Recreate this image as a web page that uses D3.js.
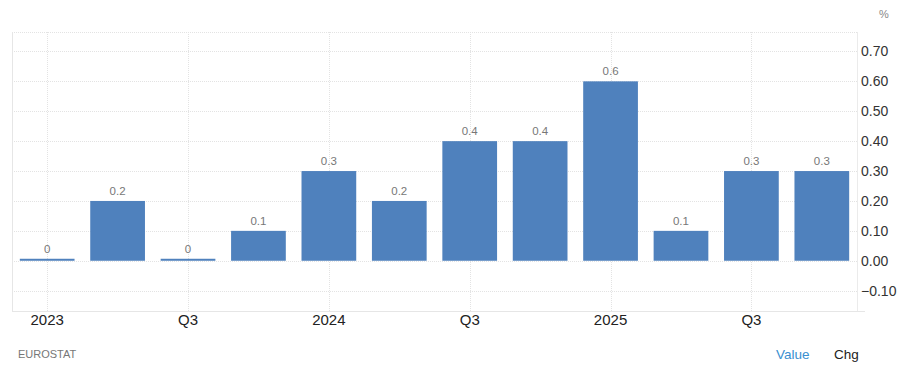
<!DOCTYPE html>
<html><head><meta charset="utf-8">
<script src="https://cdn.jsdelivr.net/npm/d3@7"></script>
<style>body{margin:0;background:#fff;}svg{display:block;font-family:Arial,"Liberation Sans",sans-serif;}</style>
</head><body>
<svg id="c" width="900" height="374"></svg>
<script>
const categories = ["2023 Q1","2023 Q2","2023 Q3","2023 Q4","2024 Q1","2024 Q2","2024 Q3","2024 Q4","2025 Q1","2025 Q2","2025 Q3","2025 Q4"];
const values = [0, 0.2, 0, 0.1, 0.3, 0.2, 0.4, 0.4, 0.6, 0.1, 0.3, 0.3];
const xTickLabels = {"2023 Q1":"2023","2023 Q3":"Q3","2024 Q1":"2024","2024 Q3":"Q3","2025 Q1":"2025","2025 Q3":"Q3"};
const yTicks = [-0.1, 0, 0.1, 0.2, 0.3, 0.4, 0.5, 0.6, 0.7];

const svg = d3.select("#c");
const L = 12, R = 857, T = 32, B = 311;
const x = d3.scaleBand().domain(categories).range([L, R]).paddingInner(0.223).paddingOuter(0.111);
const y = d3.scaleLinear().domain([-0.168, 0.765]).range([B, T]);

// grid
const g = svg.append("g");
g.selectAll("line.h").data(yTicks).join("line")
  .attr("x1", L).attr("x2", R).attr("y1", d => Math.round(y(d)) + 0.5).attr("y2", d => Math.round(y(d)) + 0.5)
  .attr("stroke", "#e3e3e3").attr("stroke-dasharray", "1,1");
g.selectAll("line.v").data(Object.keys(xTickLabels)).join("line")
  .attr("x1", d => Math.round(x(d) + x.bandwidth() / 2) + 0.5).attr("x2", d => Math.round(x(d) + x.bandwidth() / 2) + 0.5)
  .attr("y1", T).attr("y2", B).attr("stroke", "#e3e3e3").attr("stroke-dasharray", "1,1");
// borders
g.append("line").attr("x1", L).attr("x2", R).attr("y1", T + 0.5).attr("y2", T + 0.5).attr("stroke", "#e3e3e3").attr("stroke-dasharray", "1,1");
g.append("line").attr("x1", L + 0.5).attr("x2", L + 0.5).attr("y1", T).attr("y2", B).attr("stroke", "#e6e6e6");
g.append("line").attr("x1", R + 0.5).attr("x2", R + 0.5).attr("y1", T).attr("y2", B).attr("stroke", "#ebebeb");
g.append("line").attr("x1", L).attr("x2", 865).attr("y1", B + 0.5).attr("y2", B + 0.5).attr("stroke", "#e6e6e6");

// bars
svg.append("g").selectAll("rect").data(values).join("rect")
  .attr("x", (d, i) => x(categories[i]))
  .attr("width", x.bandwidth())
  .attr("y", d => Math.min(y(d), y(0) - 2))
  .attr("height", d => Math.max(Math.abs(y(0) - y(d)), 2))
  .attr("fill", "#4f81bd");

// value labels
svg.append("g").selectAll("text").data(values).join("text")
  .attr("x", (d, i) => x(categories[i]) + x.bandwidth() / 2)
  .attr("y", d => Math.min(y(d), y(0) - 2) - 6)
  .attr("text-anchor", "middle").attr("font-size", 11.5).attr("fill", "#777")
  .text(d => d3.format("")(d));

// y axis labels (right)
const yAxis = d3.axisRight(y).tickValues(yTicks).tickFormat(d3.format(".2f")).tickSize(0).tickPadding(0);
const ya = svg.append("g").attr("transform", `translate(${R + 4},0)`).call(yAxis);
ya.select(".domain").remove();
ya.selectAll("text").attr("font-size", 14).attr("fill", "#333").attr("font-family", "Arial, 'Liberation Sans', sans-serif");

// x axis labels
const xAxis = d3.axisBottom(x).tickValues(Object.keys(xTickLabels)).tickFormat(d => xTickLabels[d]).tickSize(0).tickPadding(0);
const xa = svg.append("g").attr("transform", `translate(0,${B + 3})`).call(xAxis);
xa.select(".domain").remove();
xa.selectAll("text").attr("font-size", 15).attr("fill", "#222").attr("font-family", "Arial, 'Liberation Sans', sans-serif");

// misc text
svg.append("text").attr("x", 884).attr("y", 18).attr("text-anchor", "middle").attr("font-size", 11).attr("fill", "#888").text("%");
svg.append("text").attr("x", 18).attr("y", 358).attr("font-size", 11).attr("fill", "#777").text("EUROSTAT");
svg.append("text").attr("x", 776).attr("y", 359).attr("font-size", 13.5).attr("fill", "#3a8fd0").text("Value");
svg.append("text").attr("x", 834).attr("y", 359).attr("font-size", 13.5).attr("fill", "#222").text("Chg");
</script>
</body></html>
